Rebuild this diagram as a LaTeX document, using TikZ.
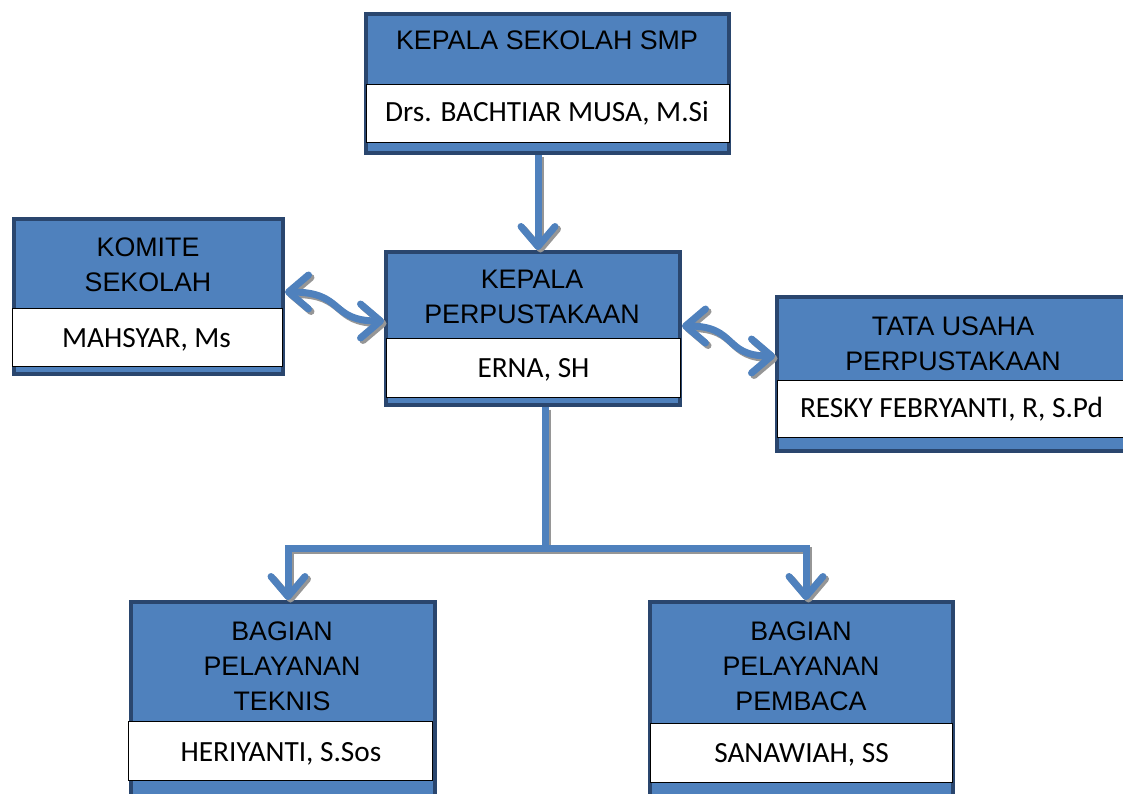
\documentclass[tikz,border=0pt]{standalone}
\usepackage{fontspec}
\setmainfont{Liberation Sans}
\newfontfamily\calib{Carlito}
\usetikzlibrary{arrows.meta}
\definecolor{boxblue}{RGB}{79,129,189}
\definecolor{boxedge}{RGB}{42,70,110}
\definecolor{shadowgray}{RGB}{150,150,150}
\newcommand\shadowdraw[2]{%
  \draw[conn,#1,draw=shadowgray,transform canvas={shift={(2.5pt,-2.5pt)}}] #2;
  \draw[conn,#1] #2;}
\begin{document}
\begin{tikzpicture}[x=1pt,y=-1pt,
 bluebox/.style={draw=boxedge,line width=4pt,fill=boxblue,inner sep=0pt},
 namebox/.style={draw=black,line width=0.8pt,fill=white,inner sep=0pt},
 titletext/.style={font=\fontsize{26.8}{35}\selectfont,align=center,anchor=base,inner sep=0pt},
 nametext/.style={font=\calib\fontsize{29.3}{35}\selectfont,anchor=base,inner sep=0pt},
 conn/.style={draw=boxblue,line width=7pt},
 barb/.tip={Straight Barb[length=20pt,width=34pt,round]},
 tip/.style={-barb},
 dtip/.style={barb-barb}
]
\useasboundingbox (0,0) rectangle (1123,794);

% boxes
\node[bluebox,minimum width=363pt,minimum height=139pt] (topbox) at (547.5,83.5) {};
\node[namebox,minimum width=363pt,minimum height=58pt] (topname) at (547.5,113) {};
\node[bluebox,minimum width=269pt,minimum height=155pt] (kombox) at (148.5,296.5) {};
\node[namebox,minimum width=270pt,minimum height=58pt] (komname) at (147,337) {};
\node[bluebox,minimum width=294pt,minimum height=153pt] (ctrbox) at (533,328.5) {};
\node[namebox,minimum width=294pt,minimum height=59pt] (ctrname) at (533,367.5) {};
\node[bluebox,minimum width=349pt,minimum height=154pt] (tubox) at (951.5,374) {};
\node[namebox,minimum width=349pt,minimum height=57pt] (tuname) at (951.5,408.5) {};
\node[bluebox,minimum width=304pt,minimum height=216pt] (blbox) at (282.5,710) {};
\node[namebox,minimum width=304pt,minimum height=59pt] (blname) at (280.5,751) {};
\node[bluebox,minimum width=303pt,minimum height=216pt] (brbox) at (801.5,710) {};
\node[namebox,minimum width=302pt,minimum height=59pt] (brname) at (801,753) {};

% texts (anchor = baseline of last line)
\node[titletext] (t1) at (547,50) {KEPALA SEKOLAH SMP};
\node[nametext] (n1) at (547,122) {Drs. BACHTIAR MUSA, M.Si};
\node[titletext] (t2) at (148,291) {KOMITE\\SEKOLAH};
\node[nametext] (n2) at (146.5,347) {MAHSYAR, Ms};
\node[titletext] (t3) at (532,323) {KEPALA\\PERPUSTAKAAN};
\node[nametext] (n3) at (533.5,377) {ERNA, SH};
\node[titletext] (t4) at (953,370) {TATA USAHA\\PERPUSTAKAAN};
\node[nametext] (n4) at (951.5,417) {RESKY FEBRYANTI, R, S.Pd};
\node[titletext] (t5) at (282,710) {BAGIAN\\PELAYANAN\\TEKNIS};
\node[nametext] (n5) at (281,761) {HERIYANTI, S.Sos};
\node[titletext] (t6) at (801,710) {BAGIAN\\PELAYANAN\\PEMBACA};
\node[nametext] (n6) at (801.5,762) {SANAWIAH, SS};

% connectors
\coordinate (junc) at (545,548);
\shadowdraw{tip}{([xshift=-9.5pt]topbox.south) -- ([xshift=-9.5pt]topbox.south |- ctrbox.north)}
\shadowdraw{dtip}{([yshift=4.5pt]kombox.east) .. controls +(60,0) and +(-55,0) .. ([yshift=7.5pt]ctrbox.west)}
\shadowdraw{dtip}{([yshift=2.5pt]ctrbox.east) .. controls +(55,0) and +(-52,0) .. ([yshift=18pt]tubox.west)}
\shadowdraw{}{([xshift=12pt]ctrbox.south) -- (junc)}
\shadowdraw{dtip}{([xshift=5.5pt]blbox.north) |- (junc) -| ([xshift=4.5pt]brbox.north)}
\end{tikzpicture}
\end{document}
